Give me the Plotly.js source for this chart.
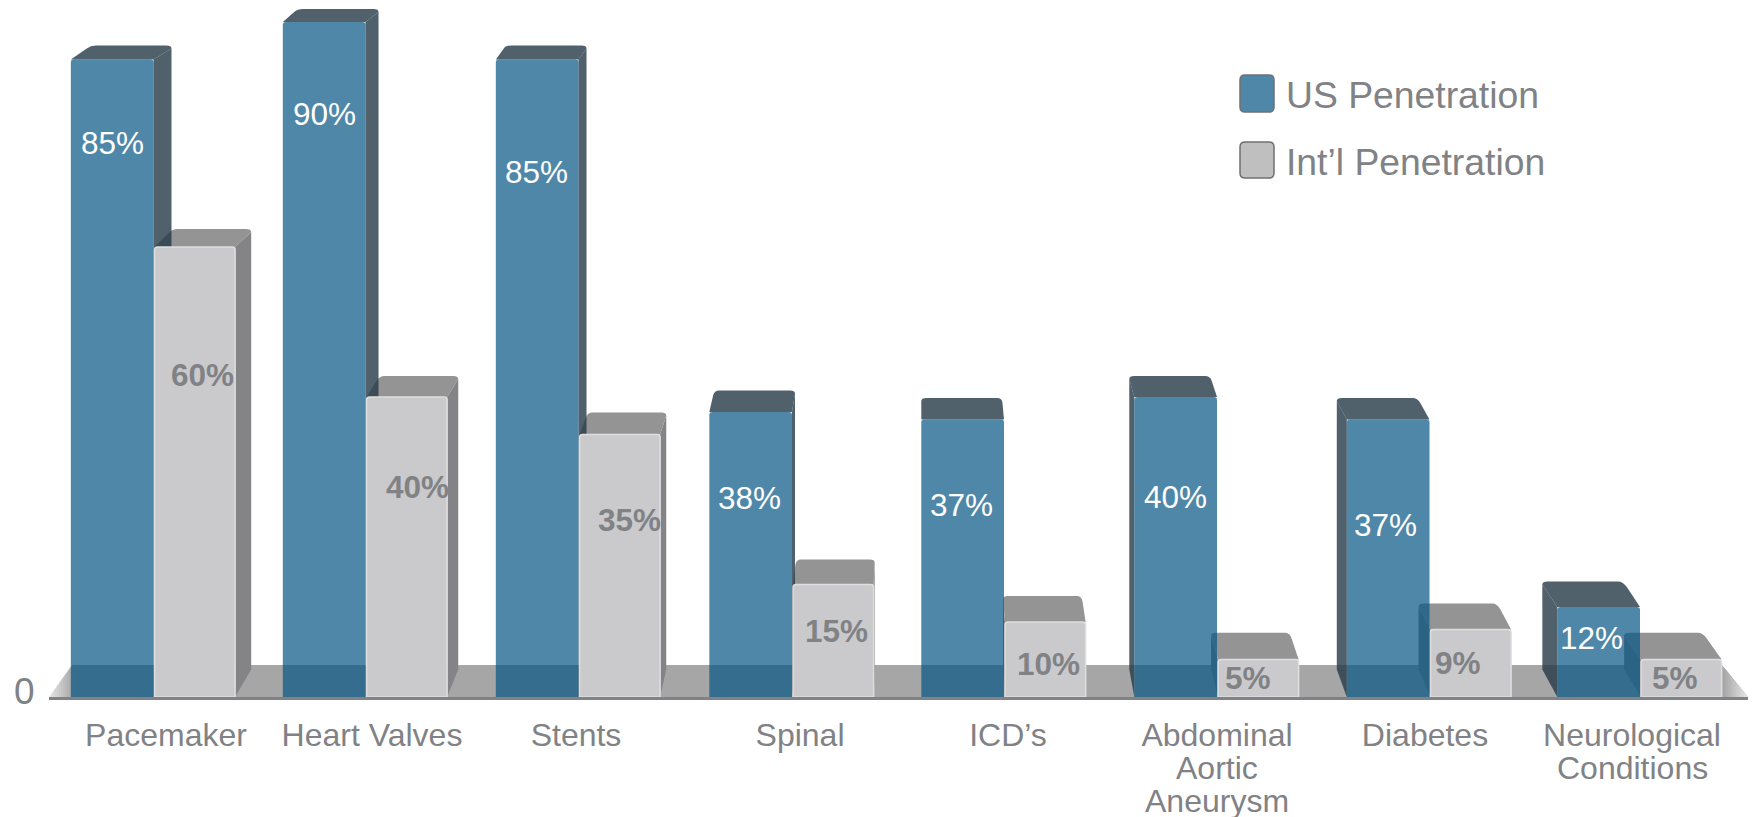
<!DOCTYPE html>
<html>
<head>
<meta charset="utf-8">
<script src="https://cdn.plot.ly/plotly-3.0.1.min.js"></script>
<style>html,body{margin:0;padding:0;background:#fff}#chart{width:1752px;height:817px}</style>
</head>
<body>
<div id="chart"></div>
<script>
// Device therapy penetration by category
const categories = ['Pacemaker', 'Heart Valves', 'Stents', 'Spinal', 'ICD’s', 'Abdominal', 'Diabetes', 'Neurological'];
const extraLines = [[], [], [], [], [], ['Aortic', 'Aneurysm'], [], ['Conditions']];
const usValues = [85, 90, 85, 38, 37, 40, 37, 12];
const intlValues = [60, 40, 35, 15, 10, 5, 9, 5];

// Pixel placement of the labels
const labelCentres = [166, 372, 576, 800, 1008, 1217, 1425, 1632];
const usLabelPos = [[112, 143], [324, 114], [536, 172], [749, 498], [961, 505], [1175, 497], [1385, 525], [1591, 638]];
const intlLabelPos = [[202, 375], [417, 487], [629, 520], [836, 631], [1048, 664], [1248, 678], [1458, 663], [1675, 678]];
// Sideways nudge of each group, in pixels, for the lean of the tall columns
const groupNudge = [-2.5, -2.5, -1.5, 0, 0, 1, 1.5, 0];

// Plot frame, in pixels
const W = 1752, H = 817, L = 49, R = 1748, BASE = 697;
const PX_PER_CAT = 212, FIRST_CAT_PX = 156, PX_PER_UNIT = 7.5;
const xRange = [(L - FIRST_CAT_PX) / PX_PER_CAT, (R - FIRST_CAT_PX) / PX_PER_CAT];
const yRange = [0, BASE / PX_PER_UNIT];
const usW = 0.39, intlW = 0.38, intlGap = 0.005;

const font = 'Liberation Sans, Arial, sans-serif';
const grey = '#808285';
const paperX = px => (px - L) / (R - L);
const paperY = py => (BASE - py) / BASE;
const catX = px => (px - FIRST_CAT_PX) / PX_PER_CAT;

// Fake perspective: faces recede towards a vanishing column near the middle
const VANISH = catX(920), SKEW = 0.0235;
const depth = v => (27.5 - 0.16 * v) / PX_PER_UNIT;
const recede = x => x + SKEW * (VANISH - x);
const RX = 5 / PX_PER_CAT, RY = 3 / PX_PER_UNIT, EDGE_ROUND = 0.22;

function pathShape(d, fill) {
  return {type: 'path', path: d, xref: 'x', yref: 'y', fillcolor: fill, line: {width: 0}, layer: 'below'};
}
function poly(points, fill) {
  return pathShape(points.map((p, i) => (i ? 'L' : 'M') + p[0] + ',' + p[1]).join(' ') + ' Z', fill);
}

function boxFaces(x0, x1, v, topFill, sideFill) {
  const d = depth(v), d0 = depth(0), top = v + d;
  const b0 = recede(x0), b1 = recede(x1);
  const rightSide = (x0 + x1) / 2 < VANISH;
  // Where the back corner has a visible side below it the rounding drops straight
  // down; on the silhouette it runs back along the slanted top edge instead.
  const leftStart = rightSide
    ? [b0 + (x0 - b0) * EDGE_ROUND, top - d * EDGE_ROUND]
    : [b0, top - RY];
  const rightEnd = rightSide
    ? [b1, top - RY]
    : [b1 + (x1 - b1) * EDGE_ROUND, top - d * EDGE_ROUND];
  const topPath = `M${x0},${v} L${leftStart[0]},${leftStart[1]} Q${b0},${top} ${b0 + RX},${top} L${b1 - RX},${top} Q${b1},${top} ${rightEnd[0]},${rightEnd[1]} L${x1},${v} Z`;
  const side = rightSide
    ? [[x1, v], rightEnd, [b1, d0], [x1, 0]]
    : [[x0, v], leftStart, [b0, d0], [x0, 0]];
  return [pathShape(topPath, topFill), poly(side, sideFill)];
}

const shapes = [];

// Floor slab, fading out towards both tips
const floorTop = 32 / PX_PER_UNIT;
const FLOOR = 166, TIP = 232, FADE = 24, STEPS = 12;
const LEFT_TIP = 49, LEFT_BACK = 72, RIGHT_TIP = 1748, RIGHT_BACK = 1722;
const floorEdge = (px, tipPx, backPx) => Math.min(1, (px - tipPx) / (backPx - tipPx)) * floorTop;
const shade = t => { const c = Math.round(TIP + (FLOOR - TIP) * t); return `rgb(${c},${c},${c})`; };
shapes.push(poly([[catX(LEFT_BACK), 0], [catX(LEFT_BACK), floorTop], [catX(RIGHT_BACK), floorTop], [catX(RIGHT_TIP), 0]], shade(1)));
for (let s = 0; s < STEPS; s++) {
  const a = s * FADE / STEPS, b = (s + 1) * FADE / STEPS + 0.5, t = (s + 0.5) / STEPS;
  [[LEFT_TIP, LEFT_BACK, 1], [RIGHT_TIP, RIGHT_BACK, -1]].forEach(([tip, back, dir]) => {
    const p0 = tip + dir * a, p1 = tip + dir * b;
    shapes.push(poly([
      [catX(p0), 0], [catX(p1), 0],
      [catX(p1), floorEdge(p1, tip, back)], [catX(p0), floorEdge(p0, tip, back)]
    ], shade(t)));
  });
}

const idx = categories.map((c, i) => i);
const centre = idx.map(i => i + groupNudge[i] / PX_PER_CAT);

// Receding faces, grey boxes first so blue fronts tint them
idx.forEach(i => {
  shapes.push(...boxFaces(centre[i] + intlGap, centre[i] + intlGap + intlW, intlValues[i], 'rgb(148,148,148)', 'rgb(132,132,134)'));
});
idx.forEach(i => {
  shapes.push(...boxFaces(centre[i] - usW, centre[i], usValues[i], 'rgba(36,58,71,0.8)', 'rgba(36,58,71,0.8)'));
});

// Legend swatches with rounded corners
function swatch(x0, y0, x1, y1, fill) {
  const r = 5, X = paperX, Y = paperY;
  const d = `M${X(x0 + r)},${Y(y0)} L${X(x1 - r)},${Y(y0)} Q${X(x1)},${Y(y0)} ${X(x1)},${Y(y0 + r)} L${X(x1)},${Y(y1 - r)} Q${X(x1)},${Y(y1)} ${X(x1 - r)},${Y(y1)} L${X(x0 + r)},${Y(y1)} Q${X(x0)},${Y(y1)} ${X(x0)},${Y(y1 - r)} L${X(x0)},${Y(y0 + r)} Q${X(x0)},${Y(y0)} ${X(x0 + r)},${Y(y0)} Z`;
  return {type: 'path', path: d, xref: 'paper', yref: 'paper', fillcolor: fill, line: {color: '#6d7074', width: 1.5}};
}
shapes.push(swatch(1240, 75, 1274, 112, '#4f87a8'));
shapes.push(swatch(1240, 142, 1274, 178, '#bfbfbf'));

// Text helper working in pixel positions
const textAt = (px, py, text, size, color, extra) => Object.assign({
  xref: 'paper', yref: 'paper', x: paperX(px), y: paperY(py), text, showarrow: false,
  xanchor: 'center', yanchor: 'middle', font: {family: font, size, color}
}, extra || {});

const annotations = [];
usValues.forEach((v, i) => annotations.push(textAt(usLabelPos[i][0], usLabelPos[i][1], v + '%', 31.5, '#ffffff')));
intlValues.forEach((v, i) => annotations.push(textAt(intlLabelPos[i][0], intlLabelPos[i][1], '<b>' + v + '%</b>', 31.5, grey)));
extraLines.forEach((lines, i) => lines.forEach((t, j) => annotations.push(textAt(labelCentres[i], 735 + 33 * (j + 1), t, 32, grey))));
annotations.push(textAt(24, 691, '0', 37, grey));
annotations.push(textAt(1284, 95, 'US Penetration', 37.3, grey, {xanchor: 'left'}));
annotations.push(textAt(1284, 162, 'Int’l Penetration', 37.3, grey, {xanchor: 'left'}));

const data = [
  {type: 'bar', x: idx.map(i => centre[i] - usW / 2), y: usValues, width: usW, name: 'US Penetration',
   marker: {color: 'rgba(7,86,132,0.71)', line: {width: 0}}, hoverinfo: 'y'},
  {type: 'bar', x: idx.map(i => centre[i] + intlGap + intlW / 2), y: intlValues, width: intlW, name: 'Int’l Penetration',
   marker: {color: '#cacacc', line: {color: '#dedee0', width: 1.5}}, hoverinfo: 'y'}
];

const layout = {
  width: W, height: H, autosize: false,
  margin: {l: L, r: W - R, t: 0, b: H - BASE, pad: 0},
  paper_bgcolor: '#fff', plot_bgcolor: 'rgba(0,0,0,0)',
  showlegend: false, barmode: 'overlay', barcornerradius: 3,
  xaxis: {
    type: 'linear', range: xRange, showgrid: false, zeroline: false, fixedrange: true,
    showline: true, linecolor: grey, linewidth: 3,
    tickmode: 'array', tickvals: labelCentres.map(catX), ticktext: categories,
    ticks: '', ticklen: 0, ticklabelstandoff: 8,
    tickfont: {family: font, size: 32, color: grey}
  },
  yaxis: {range: yRange, showgrid: false, zeroline: false, showticklabels: false, ticks: '', showline: false, fixedrange: true},
  shapes, annotations
};

Plotly.newPlot('chart', data, layout, {displayModeBar: false, staticPlot: true});
</script>
</body>
</html>
